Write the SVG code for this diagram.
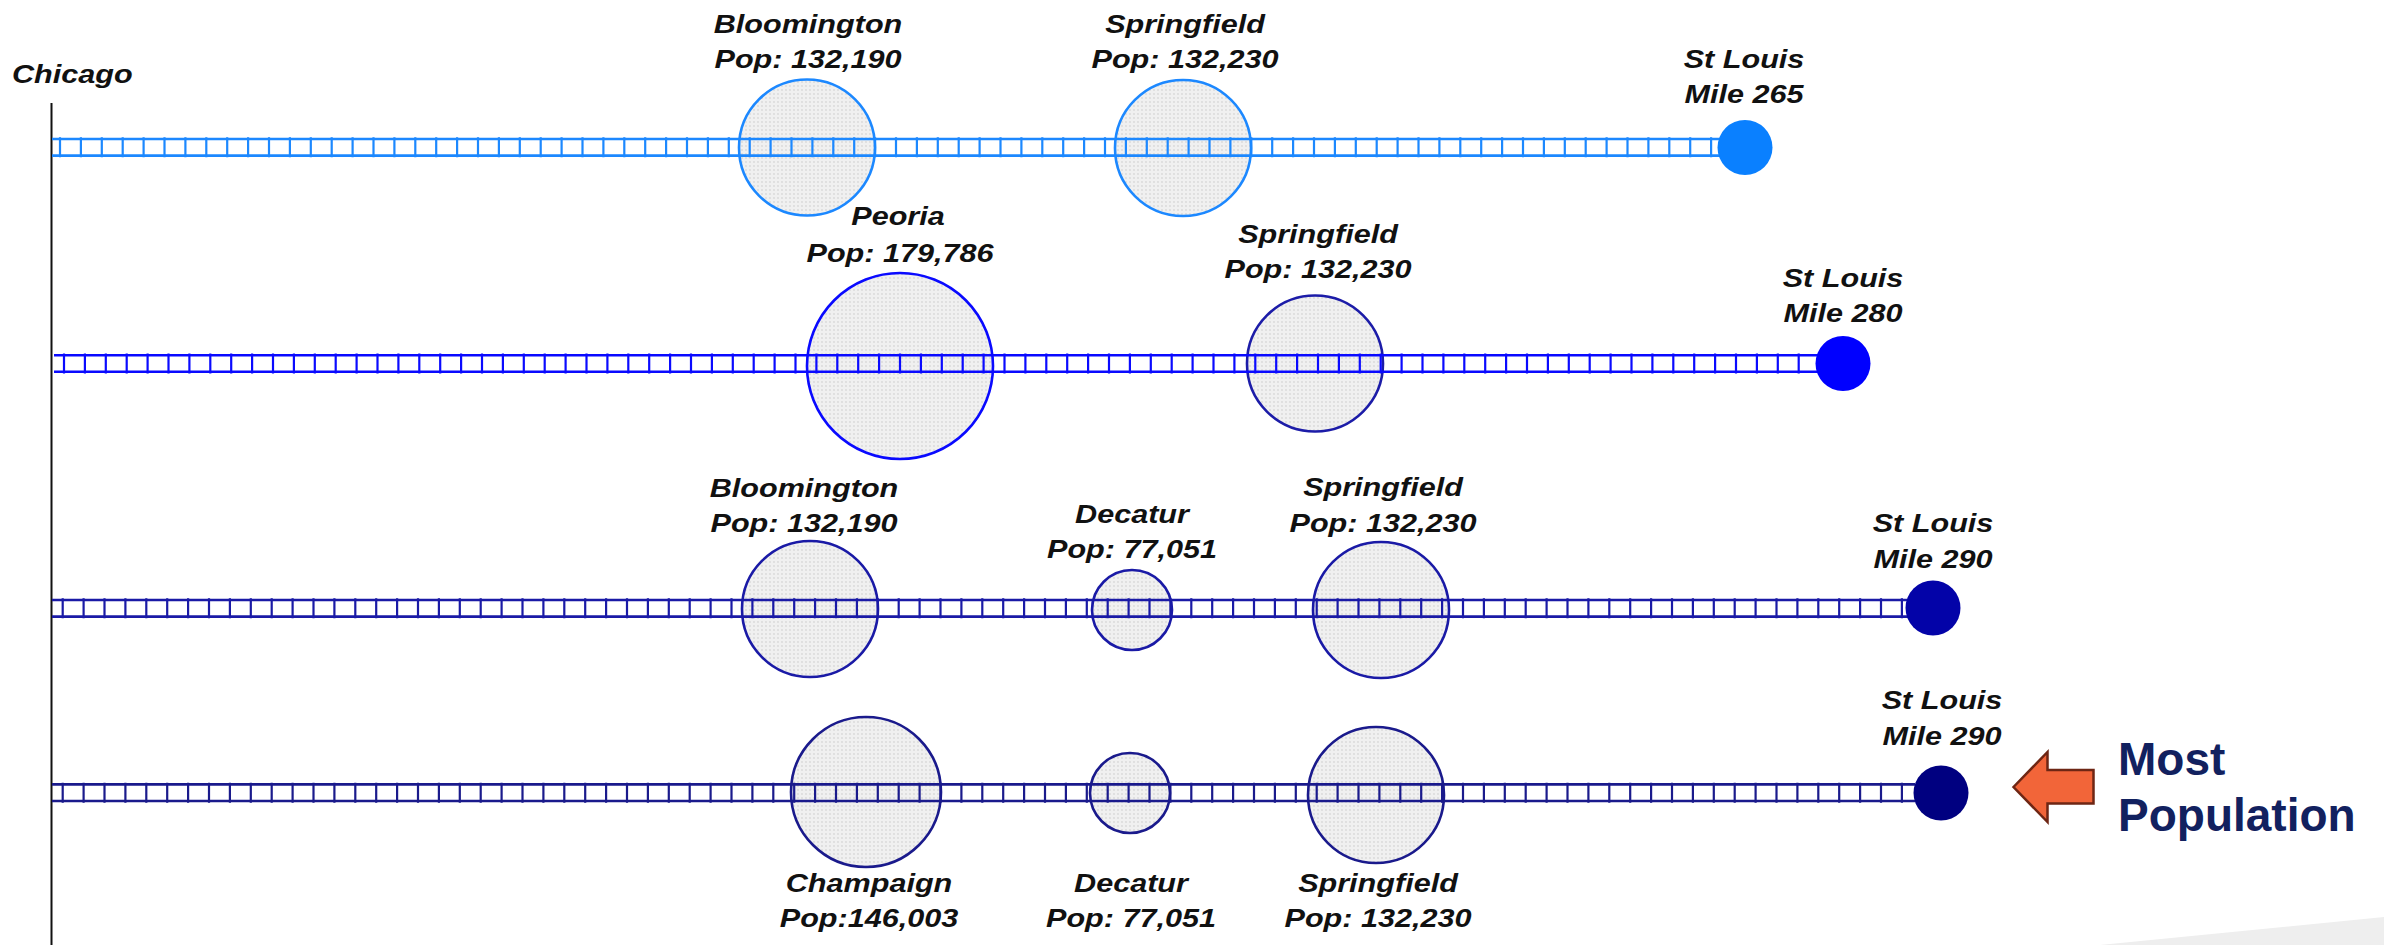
<svg xmlns="http://www.w3.org/2000/svg" width="2384" height="945" viewBox="0 0 2384 945">
<defs>
<pattern id="dots" width="4" height="4" patternUnits="userSpaceOnUse">
<rect width="4" height="4" fill="#F0F0F0"/>
<circle cx="2" cy="2" r="0.7" fill="#C4C4C4"/>
</pattern>
</defs>
<style>
.lbl{font-family:"Liberation Sans",Arial,sans-serif;font-weight:bold;font-style:italic;font-size:25.5px;fill:#111;text-anchor:middle}
.city{fill:url(#dots);stroke-width:2.6}
.rail{fill:none;stroke-width:2.6}
.tie{fill:none;stroke-width:20;stroke-dasharray:2.2 18.7}
.r1{stroke:#1C88FF}
.r2{stroke:#0A0AFF}
.r2b{stroke:#1C1CA8}
.r3{stroke:#1A1AA6}
.r4{stroke:#1A1A8C}
.big{font-family:"Liberation Sans",Arial,sans-serif;font-weight:bold;font-size:46px;fill:#12215F}
</style>
<rect width="2384" height="945" fill="#FFFFFF"/>
<polygon points="2100,945 2384,917 2384,945" fill="#EEEEEE"/>

<g id="chicago">
<line x1="51.5" y1="103" x2="51.5" y2="945" stroke="#111" stroke-width="2"/>
<text class="lbl" style="text-anchor:start" transform="translate(12 0) scale(1.2 1)" x="0" y="83">Chicago</text>
</g>

<g id="row1-bloomington">
<circle class="city r1" cx="807" cy="147.5" r="68"/>
<text class="lbl" transform="translate(808 0) scale(1.2 1)" x="0" y="33">Bloomington</text>
<text class="lbl" transform="translate(808 0) scale(1.2 1)" x="0" y="68">Pop: 132,190</text>
</g>
<g id="row1-springfield">
<circle class="city r1" cx="1183" cy="148" r="68"/>
<text class="lbl" transform="translate(1185 0) scale(1.2 1)" x="0" y="33">Springfield</text>
<text class="lbl" transform="translate(1185 0) scale(1.2 1)" x="0" y="68">Pop: 132,230</text>
</g>

<g id="row2-peoria">
<circle class="city r2" cx="900" cy="366" r="93"/>
<text class="lbl" transform="translate(898 0) scale(1.2 1)" x="0" y="225">Peoria</text>
<text class="lbl" transform="translate(900 0) scale(1.2 1)" x="0" y="262">Pop: 179,786</text>
</g>
<g id="row2-springfield">
<circle class="city r2b" cx="1315" cy="363.5" r="68"/>
<text class="lbl" transform="translate(1318 0) scale(1.2 1)" x="0" y="243">Springfield</text>
<text class="lbl" transform="translate(1318 0) scale(1.2 1)" x="0" y="278">Pop: 132,230</text>
</g>

<g id="row3-bloomington">
<circle class="city r3" cx="810" cy="609" r="68"/>
<text class="lbl" transform="translate(804 0) scale(1.2 1)" x="0" y="497">Bloomington</text>
<text class="lbl" transform="translate(804 0) scale(1.2 1)" x="0" y="532">Pop: 132,190</text>
</g>
<g id="row3-decatur">
<circle class="city r3" cx="1132" cy="610" r="40"/>
<text class="lbl" transform="translate(1132 0) scale(1.2 1)" x="0" y="523">Decatur</text>
<text class="lbl" transform="translate(1132 0) scale(1.2 1)" x="0" y="558">Pop: 77,051</text>
</g>
<g id="row3-springfield">
<circle class="city r3" cx="1381" cy="610" r="68"/>
<text class="lbl" transform="translate(1383 0) scale(1.2 1)" x="0" y="496">Springfield</text>
<text class="lbl" transform="translate(1383 0) scale(1.2 1)" x="0" y="532">Pop: 132,230</text>
</g>

<g id="row4-champaign">
<circle class="city r4" cx="866" cy="792" r="75"/>
<text class="lbl" transform="translate(869 0) scale(1.2 1)" x="0" y="892">Champaign</text>
<text class="lbl" transform="translate(869 0) scale(1.2 1)" x="0" y="927">Pop:146,003</text>
</g>
<g id="row4-decatur">
<circle class="city r4" cx="1130" cy="793" r="40"/>
<text class="lbl" transform="translate(1131 0) scale(1.2 1)" x="0" y="892">Decatur</text>
<text class="lbl" transform="translate(1131 0) scale(1.2 1)" x="0" y="927">Pop: 77,051</text>
</g>
<g id="row4-springfield">
<circle class="city r4" cx="1376" cy="795" r="68"/>
<text class="lbl" transform="translate(1378 0) scale(1.2 1)" x="0" y="892">Springfield</text>
<text class="lbl" transform="translate(1378 0) scale(1.2 1)" x="0" y="927">Pop: 132,230</text>
</g>

<g id="connectors">
<g id="track1" class="r1">
<line class="tie" x1="58.9" y1="147.3" x2="1720" y2="147.3"/>
<line class="rail" x1="52" y1="139" x2="1720" y2="139"/>
<line class="rail" x1="52" y1="155.6" x2="1720" y2="155.6"/>
</g>
<g id="track2" class="r2">
<line class="tie" x1="62.9" y1="363.5" x2="1818" y2="363.5"/>
<line class="rail" x1="54" y1="355.2" x2="1818" y2="355.2"/>
<line class="rail" x1="54" y1="371.8" x2="1818" y2="371.8"/>
</g>
<g id="track3" class="r3">
<line class="tie" x1="61.6" y1="608.3" x2="1908" y2="608.3"/>
<line class="rail" x1="52" y1="600" x2="1908" y2="600"/>
<line class="rail" x1="52" y1="616.6" x2="1908" y2="616.6"/>
</g>
<g id="track4" class="r4">
<line class="tie" x1="61.6" y1="792.7" x2="1915" y2="792.7"/>
<line class="rail" x1="52" y1="784.4" x2="1915" y2="784.4"/>
<line class="rail" x1="52" y1="801" x2="1915" y2="801"/>
</g>
</g>

<g id="row1-stlouis">
<circle cx="1745" cy="147.5" r="27.5" fill="#0A80FF"/>
<text class="lbl" transform="translate(1744 0) scale(1.2 1)" x="0" y="68">St Louis</text>
<text class="lbl" transform="translate(1744 0) scale(1.2 1)" x="0" y="103">Mile 265</text>
</g>
<g id="row2-stlouis">
<circle cx="1843" cy="363.5" r="27.5" fill="#0000FF"/>
<text class="lbl" transform="translate(1843 0) scale(1.2 1)" x="0" y="287">St Louis</text>
<text class="lbl" transform="translate(1843 0) scale(1.2 1)" x="0" y="322">Mile 280</text>
</g>
<g id="row3-stlouis">
<circle cx="1933" cy="608" r="27.5" fill="#0303A8"/>
<text class="lbl" transform="translate(1933 0) scale(1.2 1)" x="0" y="532">St Louis</text>
<text class="lbl" transform="translate(1933 0) scale(1.2 1)" x="0" y="568">Mile 290</text>
</g>
<g id="row4-stlouis">
<circle cx="1941" cy="793" r="27.5" fill="#000080"/>
<text class="lbl" transform="translate(1942 0) scale(1.2 1)" x="0" y="709">St Louis</text>
<text class="lbl" transform="translate(1942 0) scale(1.2 1)" x="0" y="745">Mile 290</text>
</g>

<g id="most-population">
<polygon points="2013.5,787 2047.5,752 2047.5,770 2093.5,770 2093.5,803.5 2047.5,803.5 2047.5,822" fill="#F26539" stroke="#6E2614" stroke-width="2.5" stroke-linejoin="miter"/>
<text class="big" x="2118" y="775">Most</text>
<text class="big" x="2118" y="831">Population</text>
</g>
</svg>
